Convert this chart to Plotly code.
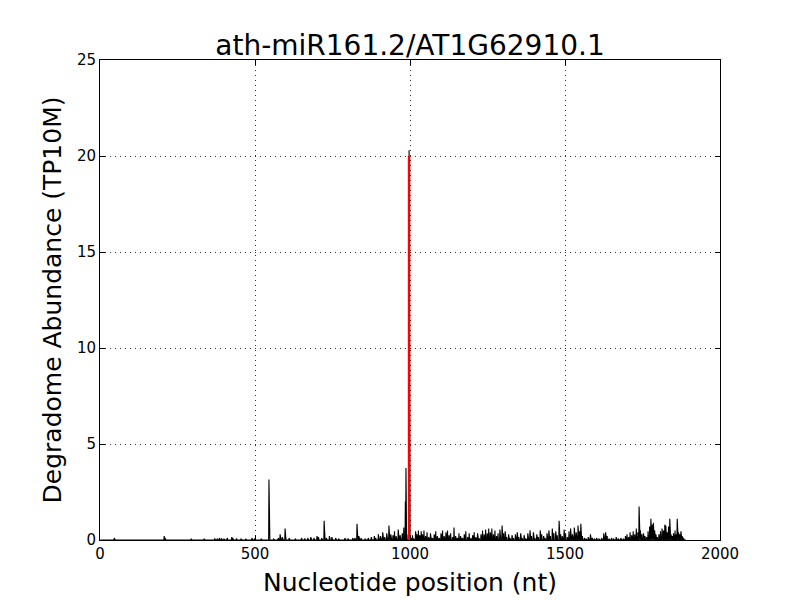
import plotly.graph_objects as go

title_text = "ath-miR161.2/AT1G62910.1"
x_label = "Nucleotide position (nt)"
y_label = "Degradome Abundance (TP10M)"

# Non-zero degradome abundance values (position in nt, abundance in TP10M)
peak_positions = [
    46, 207, 210, 294, 336, 370, 378, 385, 392, 400, 410, 425, 428, 440, 455, 470, 490, 498,
    520, 545, 560, 575, 581, 588, 597, 610, 630, 650, 660, 670, 680, 690, 700, 705, 715, 723,
    730, 740, 748, 760, 770, 790, 800, 815, 822, 829, 835, 842, 855, 865, 875, 885, 890, 898,
    905, 912, 918, 925, 932, 938, 945, 950, 955, 962, 968, 975, 980, 985, 987, 990, 997,
    1003, 1008, 1012, 1018, 1022, 1027, 1031, 1036, 1040, 1045, 1050, 1055, 1060, 1066, 1072,
    1078, 1083, 1088, 1094, 1100, 1105, 1110, 1116, 1121, 1126, 1131, 1137, 1142, 1147, 1153,
    1158, 1163, 1169, 1175, 1180, 1186, 1191, 1196, 1202, 1207, 1212, 1218, 1223, 1229, 1234,
    1239, 1244, 1249, 1254, 1259, 1264, 1269, 1274, 1279, 1284, 1290, 1297, 1302, 1307, 1312,
    1318, 1323, 1329, 1334, 1340, 1346, 1351, 1357, 1362, 1368, 1374, 1380, 1387, 1392, 1398,
    1403, 1409, 1414, 1420, 1425, 1431, 1436, 1442, 1448, 1453, 1459, 1464, 1470, 1475, 1481,
    1486, 1491, 1497, 1502, 1508, 1513, 1518, 1524, 1530, 1536, 1542, 1547, 1551, 1556, 1562,
    1568, 1575, 1582, 1588, 1595, 1602, 1610, 1618, 1625, 1631, 1636, 1642, 1650, 1657, 1665,
    1672, 1680, 1688, 1695, 1700, 1705, 1710, 1715, 1720, 1725, 1730, 1735, 1739, 1743, 1748,
    1753, 1758, 1763, 1768, 1773, 1777, 1781, 1785, 1789, 1793, 1798, 1803, 1808, 1813, 1818,
    1822, 1825, 1830, 1834, 1838, 1842, 1846, 1850, 1855, 1858, 1862, 1866, 1870, 1874, 1878,
    1882,
]
peak_values = [
    0.1, 0.2, 0.1, 0.05, 0.05, 0.08, 0.05, 0.1, 0.08, 0.05, 0.1, 0.15, 0.1, 0.08, 0.05, 0.06, 0.1, 0.05,
    0.05, 3.15, 0.05, 0.1, 0.3, 0.15, 0.6, 0.1, 0.05, 0.1, 0.08, 0.1, 0.15, 0.1, 0.2, 0.15, 0.1, 1.0,
    0.1, 0.2, 0.15, 0.1, 0.05, 0.1, 0.08, 0.1, 0.1, 0.85, 0.2, 0.1, 0.05, 0.1, 0.15, 0.2, 0.1, 0.3,
    0.2, 0.4, 0.15, 0.35, 0.75, 0.3, 0.25, 0.45, 0.2, 0.55, 0.25, 0.35, 0.65, 2.0, 3.75, 0.3, 20.3,
    0.1, 0.25, 0.05, 0.45, 0.3, 0.5, 0.25, 0.45, 0.3, 0.5, 0.2, 0.4, 0.15, 0.35, 0.1,
    0.3, 0.45, 0.2, 0.1, 0.35, 0.5, 0.2, 0.4, 0.5, 0.25, 0.35, 0.15, 0.65, 0.2, 0.1,
    0.35, 0.2, 0.1, 0.3, 0.45, 0.15, 0.35, 0.1, 0.25, 0.4, 0.15, 0.35, 0.1, 0.3, 0.5,
    0.3, 0.55, 0.35, 0.6, 0.4, 0.6, 0.3, 0.5, 0.2, 0.35, 0.55, 0.75, 0.35, 0.45, 0.15,
    0.3, 0.1, 0.25, 0.1, 0.3, 0.4, 0.15, 0.35, 0.1, 0.25, 0.05, 0.35, 0.5, 0.2, 0.4,
    0.1, 0.3, 0.15, 0.5, 0.3, 0.2, 0.1, 0.35, 0.5, 0.2, 0.6, 0.35, 0.45, 0.25, 1.0,
    0.3, 0.2, 0.55, 0.35, 0.15, 0.45, 0.6, 0.3, 0.65, 0.4, 0.75, 0.45, 0.85, 0.2, 0.1,
    0.05, 0.15, 0.3, 0.1, 0.05, 0.1, 0.05, 0.1, 0.35, 0.4, 0.2, 0.05, 0.1, 0.05, 0.15,
    0.05, 0.1, 0.05, 0.2, 0.3, 0.15, 0.4, 0.25, 0.45, 0.3, 0.6, 0.4, 1.75, 0.5, 0.3,
    0.35, 0.2, 0.15, 0.45, 0.7, 1.1, 0.8, 0.9, 0.5, 0.3, 0.15, 0.3, 0.45, 0.6, 0.5,
    0.8, 0.75, 0.4, 0.7, 1.1, 0.3, 0.2, 0.35, 0.5, 0.3, 1.1, 0.4, 0.3, 0.45, 0.2,
    0.1,
]
transcript_length = 1890

cleavage_site = 997
cleavage_height = 20.0

x_ticks = [0, 500, 1000, 1500, 2000]
y_ticks = [0, 5, 10, 15, 20, 25]

# Build full per-nucleotide series (zeros where no reads)
lookup = dict(zip(peak_positions, peak_values))
positions = list(range(1, transcript_length + 1))
abundance = [lookup.get(p, 0.0) for p in positions]

fig = go.Figure()
fig.add_trace(go.Scatter(
    x=positions, y=abundance, mode="lines",
    line=dict(color="black", width=1.1),
    hoverinfo="skip", showlegend=False,
))
fig.add_trace(go.Scatter(
    x=[cleavage_site, cleavage_site], y=[0, cleavage_height], mode="lines",
    line=dict(color="#ff0000", width=2.5),
    hoverinfo="skip", showlegend=False,
))

font_family = "DejaVu Sans"
axis_common = dict(
    showline=True, linecolor="black", linewidth=1, mirror="allticks",
    ticks="inside", ticklen=5, tickcolor="black", tickwidth=1,
    showgrid=True, gridcolor="#333333", gridwidth=1, griddash="1px,4px",
    zeroline=False,
    tickfont=dict(family=font_family, size=15, color="black"),
)

# The page body has an 8px default margin; margins below compensate for it.
fig.update_layout(
    width=800, height=600,
    paper_bgcolor="white", plot_bgcolor="white",
    margin=dict(l=92, r=88, t=52, b=68),
    font=dict(family=font_family, color="black"),
    title=dict(text=title_text, x=0.5025, xanchor="center", y=0.938, yanchor="middle",
               font=dict(family=font_family, size=28, color="black")),
    xaxis=dict(range=[0, 2000], tickvals=x_ticks, ticktext=[str(t) for t in x_ticks],
               title=dict(text=x_label, font=dict(family=font_family, size=25, color="black"), standoff=11),
               **axis_common),
    yaxis=dict(range=[0, 25], tickvals=y_ticks, ticktext=[str(t) for t in y_ticks],
               title=dict(text=y_label, font=dict(family=font_family, size=25, color="black"), standoff=8),
               **axis_common),
)

fig.write_html("out.html")
